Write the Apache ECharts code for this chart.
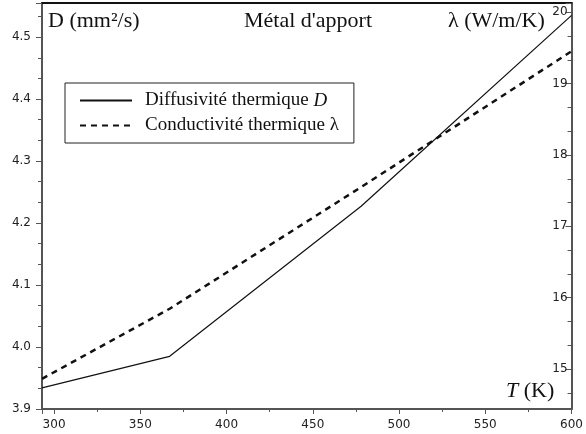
<!DOCTYPE html>
<html>
<head>
<meta charset="utf-8">
<script src="https://cdn.jsdelivr.net/npm/echarts@6/dist/echarts.min.js"></script>
<style>
  html, body { margin: 0; padding: 0; background: #fff; }
  #main { width: 586px; height: 434px; }
</style>
</head>
<body>
<div id="main"></div>
<script>
// temperatures (K) where the curves break
const temps = [293, 367, 478, 600];
// diffusivité thermique D (mm2/s), left axis
const diffusivity = [3.934, 3.985, 4.227, 4.535];
// conductivité thermique lambda (W/m/K), right axis
const conductivity = [14.863, 15.845, 17.55, 19.454];

const seriesNames = ['Diffusivité thermique D', 'Conductivité thermique λ'];

const xRange = [293, 600];
const dRange = [3.9, 4.555];
const lambdaRange = [14.44, 20.13];

const serif = 'Liberation Serif';
const sans = 'DejaVu Sans';
const axisGrey = '#555';

const chart = echarts.init(document.getElementById('main'));

const tickLabel = { fontFamily: sans, fontSize: 12, color: '#222' };

const option = {
    animation: false,
    backgroundColor: '#fff',
    grid: { left: 42, right: 6, top: 3, bottom: 25 },
    legend: {
        orient: 'vertical',
        left: 65,
        top: 83,
        selectedMode: false,
        backgroundColor: '#fff',
        borderColor: '#222',
        borderWidth: 1,
        padding: [8, 15, 8, 14],
        itemWidth: 52,
        itemHeight: 14,
        itemGap: 6,
        itemStyle: { opacity: 0 },
        data: seriesNames,
        formatter: function (name) {
            if (name === seriesNames[0]) {
                return '{n|Diffusivité thermique }{i|D}';
            }
            return '{n|Conductivité thermique λ}';
        },
        textStyle: {
            padding: [0, 0, 0, 8],
            rich: {
                n: { fontFamily: serif, fontSize: 19, color: '#111' },
                i: { fontFamily: serif, fontSize: 19, fontStyle: 'italic', color: '#111' }
            }
        }
    },
    xAxis: [
        {
            type: 'value',
            position: 'bottom',
            min: xRange[0],
            max: xRange[1],
            axisLine: { show: true, lineStyle: { color: axisGrey, width: 2 } },
            axisTick: { show: true, length: 5, lineStyle: { color: axisGrey } },
            minorTick: { show: true, splitNumber: 2, length: 3, lineStyle: { color: axisGrey } },
            splitLine: { show: false },
            axisLabel: Object.assign({ margin: 10, showMinLabel: false }, tickLabel)
        },
        {
            type: 'value',
            position: 'top',
            min: xRange[0],
            max: xRange[1],
            axisLine: { show: true, lineStyle: { color: '#111', width: 2 } },
            axisTick: { show: false },
            axisLabel: { show: false },
            splitLine: { show: false }
        }
    ],
    yAxis: [
        {
            type: 'value',
            position: 'left',
            min: dRange[0],
            max: dRange[1],
            axisLine: { show: true, lineStyle: { color: axisGrey, width: 2 } },
            axisTick: { show: true, length: 6, lineStyle: { color: axisGrey } },
            minorTick: { show: true, splitNumber: 3, length: 4, lineStyle: { color: axisGrey } },
            splitLine: { show: false },
            axisLabel: Object.assign({
                margin: 11,
                showMaxLabel: false,
                formatter: function (v) { return v.toFixed(1); }
            }, tickLabel)
        },
        {
            type: 'value',
            position: 'right',
            min: lambdaRange[0],
            max: lambdaRange[1],
            axisLine: { show: true, lineStyle: { color: axisGrey, width: 2 } },
            axisTick: { show: true, inside: true, length: 6, lineStyle: { color: axisGrey } },
            minorTick: { show: true, splitNumber: 3, length: 4, lineStyle: { color: axisGrey } },
            splitLine: { show: false },
            axisLabel: Object.assign({
                inside: true,
                margin: 4,
                showMinLabel: false,
                showMaxLabel: false
            }, tickLabel)
        }
    ],
    graphic: [
        {
            type: 'text', x: 48, y: 21,
            style: { text: 'D (mm²/s)', font: '22px "Liberation Serif"', fill: '#111', verticalAlign: 'middle' }
        },
        {
            type: 'text', x: 308, y: 21,
            style: { text: "Métal d'apport", font: '22px "Liberation Serif"', fill: '#111', align: 'center', verticalAlign: 'middle' }
        },
        {
            type: 'text', x: 448, y: 21,
            style: { text: 'λ (W/m/K)', font: '22px "Liberation Serif"', fill: '#111', verticalAlign: 'middle' }
        },
        {
            type: 'text', x: 506, y: 391,
            style: {
                text: '{i|T} (K)',
                font: '22px "Liberation Serif"',
                fill: '#111',
                verticalAlign: 'middle',
                rich: { i: { fontStyle: 'italic', fontFamily: serif, fontSize: 22, fill: '#111' } }
            }
        }
    ],
    series: [
        {
            name: seriesNames[0],
            type: 'line',
            xAxisIndex: 0,
            yAxisIndex: 0,
            symbol: 'none',
            color: '#111',
            lineStyle: { color: '#111', width: 1.2 },
            data: temps.map(function (t, i) { return [t, diffusivity[i]]; })
        },
        {
            name: seriesNames[1],
            type: 'line',
            xAxisIndex: 0,
            yAxisIndex: 1,
            symbol: 'none',
            color: '#111',
            lineStyle: { color: '#111', width: 2.5, type: [6, 5] },
            data: temps.map(function (t, i) { return [t, conductivity[i]]; })
        }
    ]
};

chart.setOption(option);
</script>
</body>
</html>
